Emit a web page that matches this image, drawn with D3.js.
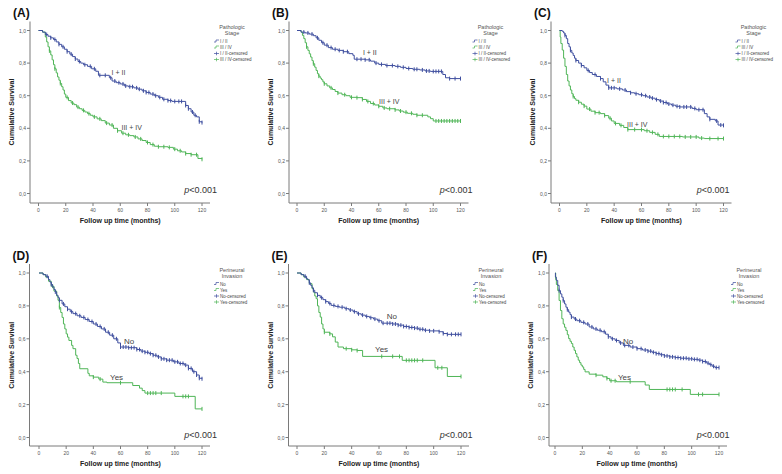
<!DOCTYPE html>
<html><head><meta charset="utf-8">
<script src="https://cdn.jsdelivr.net/npm/d3@7"></script>
<style>
body{margin:0;background:#fff;}
svg{display:block;font-family:"Liberation Sans",Arial,sans-serif;}
</style></head>
<body><svg id="c" width="782" height="474"></svg>
<script>
// ---------- DATA ----------
const xTicks = [0,20,40,60,80,100,120];
const yTicks = [0,0.2,0.4,0.6,0.8,1.0];
const yTickLabels = ["0,0","0,2","0,4","0,6","0,8","1,0"];
const panelLetters = ["(A)","(B)","(C)","(D)","(E)","(F)"];
const legendTitlesStage = ["Pathologic","Stage"];
const legendTitlesPNI = ["Perineural","Invasion"];
const legendItemsStage = ["I / II","III / IV","I / II-censored","III / IV-censored"];
const legendItemsPNI = ["No","Yes","No-censored","Yes-censored"];
const curveLabelsStage = ["I + II","III + IV"];
const curveLabelsPNI = ["No","Yes"];
const pText = "<0.001";

// survival step points [month, survival]
const aBlue = [[0,1],[3,0.99],[5,0.975],[7,0.965],[9,0.955],[11,0.945],[13,0.93],[15,0.915],[17,0.9],[19,0.885],[21,0.87],[23,0.855],[25,0.84],[27,0.825],[29,0.81],[31,0.8],[33,0.79],[36,0.78],[39,0.765],[42,0.75],[44,0.725],[52,0.71],[54,0.69],[57,0.68],[60,0.672],[63,0.66],[66,0.655],[70,0.648],[73,0.64],[76,0.63],[79,0.62],[82,0.61],[85,0.6],[88,0.59],[91,0.578],[95,0.57],[98,0.565],[108,0.54],[110,0.52],[112,0.5],[114,0.48],[116,0.47],[118,0.44],[120,0.435]];
const aGreen = [[0,1],[3,0.99],[5,0.96],[6,0.93],[7,0.9],[8,0.875],[9,0.85],[10,0.82],[11,0.79],[12,0.765],[13,0.74],[14,0.715],[15,0.695],[16,0.675],[17,0.655],[18,0.635],[19,0.61],[20,0.59],[22,0.57],[24,0.555],[26,0.545],[28,0.53],[30,0.52],[32,0.51],[34,0.5],[36,0.49],[38,0.48],[40,0.47],[43,0.458],[46,0.447],[49,0.432],[52,0.42],[55,0.4],[58,0.385],[61,0.37],[64,0.36],[67,0.355],[70,0.347],[73,0.335],[76,0.325],[79,0.313],[82,0.3],[85,0.29],[88,0.287],[95,0.283],[99,0.272],[102,0.262],[105,0.255],[108,0.245],[112,0.238],[117,0.215],[120,0.21]];
const bBlue = [[0,1],[3,0.99],[6,0.985],[9,0.978],[12,0.968],[14,0.955],[16,0.94],[18,0.925],[20,0.91],[23,0.895],[26,0.885],[30,0.878],[34,0.87],[38,0.858],[41,0.848],[42,0.824],[50,0.82],[54,0.812],[57,0.8],[60,0.792],[65,0.785],[72,0.78],[76,0.774],[80,0.767],[85,0.762],[90,0.758],[94,0.752],[98,0.749],[107,0.73],[109,0.71],[112,0.705],[120,0.705]];
const bGreen = [[0,1],[3,0.99],[4,0.97],[5,0.95],[6,0.925],[7,0.9],[8,0.878],[9,0.857],[10,0.837],[11,0.815],[12,0.796],[13,0.775],[14,0.755],[15,0.735],[16,0.72],[17,0.708],[18,0.698],[19,0.685],[20,0.673],[22,0.66],[24,0.648],[26,0.638],[28,0.626],[30,0.616],[33,0.606],[36,0.6],[39,0.59],[44,0.588],[48,0.577],[51,0.565],[54,0.552],[57,0.543],[60,0.535],[63,0.525],[66,0.52],[72,0.513],[75,0.506],[78,0.499],[81,0.492],[85,0.486],[88,0.48],[96,0.47],[98,0.459],[100,0.445],[120,0.445]];
const cBlue = [[0,1],[2,0.995],[3,0.985],[4,0.97],[5,0.95],[6,0.92],[7,0.9],[8,0.878],[9,0.862],[10,0.847],[11,0.83],[12,0.816],[14,0.8],[16,0.785],[18,0.771],[20,0.755],[22,0.742],[24,0.73],[27,0.718],[30,0.705],[32,0.685],[34,0.665],[36,0.648],[42,0.642],[46,0.635],[49,0.625],[52,0.618],[55,0.612],[58,0.606],[61,0.6],[64,0.592],[67,0.585],[70,0.576],[73,0.567],[76,0.558],[79,0.549],[82,0.542],[85,0.535],[88,0.531],[97,0.522],[100,0.514],[106,0.49],[108,0.47],[110,0.455],[114,0.445],[116,0.42],[120,0.418]];
const cGreen = [[0,1],[0.5,0.96],[1,0.92],[2,0.88],[3,0.83],[4,0.78],[5,0.73],[6,0.69],[7,0.66],[8,0.635],[9,0.612],[10,0.595],[11,0.582],[12,0.572],[14,0.56],[16,0.548],[18,0.536],[20,0.518],[23,0.505],[26,0.496],[30,0.49],[33,0.478],[36,0.462],[38,0.445],[40,0.43],[44,0.418],[47,0.405],[50,0.392],[62,0.385],[66,0.375],[70,0.363],[73,0.35],[90,0.347],[102,0.34],[106,0.337],[120,0.337]];
const dBlue = [[0,1],[3,0.99],[5,0.98],[7,0.96],[8,0.945],[9,0.93],[10,0.915],[11,0.9],[12,0.885],[13,0.865],[14,0.85],[15,0.834],[17,0.812],[19,0.795],[21,0.78],[23,0.765],[25,0.753],[28,0.74],[31,0.73],[34,0.717],[37,0.705],[40,0.69],[43,0.675],[46,0.66],[49,0.64],[52,0.622],[55,0.6],[58,0.575],[60,0.55],[66,0.546],[72,0.535],[75,0.525],[78,0.518],[81,0.51],[84,0.5],[87,0.49],[90,0.478],[94,0.47],[99,0.46],[103,0.45],[107,0.44],[110,0.42],[113,0.4],[116,0.38],[118,0.36],[120,0.357]];
const dGreen = [[0,1],[3,0.99],[5,0.975],[7,0.95],[9,0.92],[11,0.89],[13,0.86],[14,0.834],[15,0.79],[16,0.76],[17,0.73],[18,0.69],[19,0.66],[20,0.63],[21,0.61],[22,0.59],[24,0.56],[25,0.54],[27,0.5],[28,0.48],[29,0.45],[30,0.418],[36,0.39],[37,0.375],[40,0.367],[44,0.355],[47,0.337],[50,0.333],[69,0.316],[74,0.3],[76,0.285],[78,0.27],[100,0.25],[115,0.174],[120,0.174]];
const eBlue = [[0,1],[3,0.99],[5,0.98],[7,0.965],[8,0.958],[9,0.94],[10,0.925],[11,0.91],[12,0.895],[13,0.88],[15,0.864],[17,0.85],[19,0.838],[21,0.826],[23,0.815],[25,0.803],[28,0.797],[31,0.792],[35,0.783],[38,0.775],[41,0.765],[44,0.752],[47,0.744],[50,0.736],[53,0.728],[56,0.72],[59,0.71],[62,0.695],[70,0.69],[74,0.683],[78,0.675],[82,0.669],[86,0.665],[89,0.658],[93,0.652],[97,0.648],[104,0.643],[107,0.632],[110,0.627],[120,0.627]];
const eGreen = [[0,1],[3,0.99],[5,0.975],[7,0.96],[9,0.935],[11,0.905],[12,0.884],[13,0.86],[14,0.844],[15,0.8],[16,0.76],[17,0.732],[18,0.69],[19,0.66],[20,0.64],[24,0.63],[26,0.612],[28,0.58],[30,0.55],[34,0.54],[40,0.533],[44,0.529],[48,0.493],[77,0.469],[101,0.424],[110,0.371],[120,0.371]];
const fBlue = [[0,1],[0.3,0.975],[1,0.955],[2,0.925],[3,0.893],[4,0.873],[5,0.853],[6,0.832],[7,0.812],[8,0.792],[9,0.777],[10,0.762],[11,0.747],[12,0.732],[14,0.72],[16,0.71],[19,0.7],[22,0.69],[25,0.672],[28,0.66],[31,0.652],[34,0.643],[37,0.628],[39,0.612],[41,0.6],[44,0.59],[47,0.575],[50,0.56],[55,0.55],[60,0.54],[64,0.532],[68,0.525],[71,0.518],[74,0.51],[77,0.503],[80,0.496],[84,0.49],[88,0.486],[92,0.482],[97,0.478],[101,0.475],[105,0.47],[108,0.462],[111,0.452],[113,0.443],[115,0.433],[117,0.425],[120,0.425]];
const fGreen = [[0,1],[0.5,0.96],[1,0.93],[2,0.893],[3,0.833],[4,0.772],[5,0.722],[6,0.69],[7,0.67],[8,0.651],[9,0.625],[10,0.601],[11,0.585],[12,0.571],[13,0.55],[14,0.53],[15,0.51],[16,0.49],[17,0.47],[18,0.455],[19,0.44],[20,0.429],[21,0.414],[22,0.399],[25,0.385],[30,0.379],[35,0.369],[38,0.359],[40,0.345],[45,0.339],[66,0.319],[69,0.292],[99,0.262],[120,0.262]];

// censored times (months)
const aBlueCens = [6,9,12,15,18,21,24,27,30,34,38,41,45,49,53,56,59,62,64,67,69,72,74,77,79,81,84,86,89,92,95,97,100,103,105,108,110,113,115,118,120];
const aGreenCens = [8,12,16,21,25,29,33,37,41,45,50,54,58,62,66,71,75,80,84,88,92,96,100,104,108,112,116,120];
const bBlueCens = [5,8,11,15,19,22,25,28,31,34,37,44,47,50,53,58,62,66,70,74,78,82,86,88,92,95,97,100,102,104,106,112,116,120];
const bGreenCens = [7,12,16,20,25,30,35,40,44,48,52,56,60,64,68,72,76,80,84,88,92,102,104,106,108,110,112,114,116,118,120];
const cBlueCens = [4,8,12,16,21,26,30,36,38,40,44,48,52,56,60,63,66,68,71,74,76,78,80,83,86,88,91,93,96,99,102,105,110,115,118,120];
const cGreenCens = [10,14,18,22,26,29,33,37,41,45,50,55,60,64,68,72,76,80,84,88,92,96,100,104,110,116,120];
const dBlueCens = [6,9,12,15,18,21,24,27,30,33,36,39,42,45,48,51,54,57,60,62,64,66,68,70,72,74,76,78,80,82,84,86,88,90,92,94,96,98,100,102,104,106,108,110,112,114,116,118,120];
const dGreenCens = [10,15,40,45,60,80,82,84,86,90,106,108,110,120];
const eBlueCens = [6,9,12,15,18,21,24,27,30,33,36,39,42,45,48,51,54,57,60,63,66,68,70,72,74,76,78,80,82,84,86,88,90,92,94,97,100,104,107,110,113,116,118,120];
const eGreenCens = [20,24,36,40,44,62,70,75,80,82,84,86,88,92,103,106,120];
const fBlueCens = [3,6,9,12,15,18,21,24,27,30,33,36,39,42,45,48,51,54,57,60,63,66,68,70,72,74,76,78,80,82,84,86,88,90,92,94,96,98,100,102,104,106,108,110,112,114,116,118,120];
const fGreenCens = [30,38,41,44,55,82,84,86,88,93,105,108,120];

// curve label anchor positions in data units [month, survival]
const labelPosA = [[53.6,0.727],[60.9,0.39]];
const labelPosB = [[48.4,0.85],[60.2,0.549]];
const labelPosC = [[34.8,0.68],[49.4,0.406]];
const labelPosD = [[62.6,0.567],[52.3,0.348]];
const labelPosE = [[65.6,0.719],[57.1,0.52]];
const labelPosF = [[49.8,0.567],[46.1,0.352]];

// ---------- LAYOUT ----------
const BLUE = "#3f4f9f", GREEN = "#4fb557";
const row1 = {y1:30.5, y0:193.5, axisY:203};
const row2 = {y1:273, y0:437.5, axisY:446};
const panels = [
  {row:row1, axisX:30,    x0:38.5,  x120:202,   blue:aBlue, green:aGreen, bc:aBlueCens, gc:aGreenCens, lbl:labelPosA, pEnd:217, type:"stage"},
  {row:row1, axisX:289,   x0:297,   x120:460.5, blue:bBlue, green:bGreen, bc:bBlueCens, gc:bGreenCens, lbl:labelPosB, pEnd:472.5, type:"stage"},
  {row:row1, axisX:551,   x0:559.5, x120:723.5, blue:cBlue, green:cGreen, bc:cBlueCens, gc:cGreenCens, lbl:labelPosC, pEnd:729.5, type:"stage"},
  {row:row2, axisX:29.5,  x0:39,    x120:202,   blue:dBlue, green:dGreen, bc:dBlueCens, gc:dGreenCens, lbl:labelPosD, pEnd:217, type:"pni"},
  {row:row2, axisX:288.5, x0:297,   x120:461,   blue:eBlue, green:eGreen, bc:eBlueCens, gc:eGreenCens, lbl:labelPosE, pEnd:472.5, type:"pni"},
  {row:row2, axisX:549,   x0:555,   x120:719,   blue:fBlue, green:fGreen, bc:fBlueCens, gc:fGreenCens, lbl:labelPosF, pEnd:729.5, type:"pni"}
];

const svg = d3.select("#c");
const AX = "#7a7a7a";

function stepValue(series, t){
  let v = series[0][1];
  for (const p of series){ if (p[0] <= t) v = p[1]; else break; }
  return v;
}

panels.forEach((p,i)=>{
  const g = svg.append("g");
  const x = d3.scaleLinear().domain([0,120]).range([p.x0,p.x120]);
  const y = d3.scaleLinear().domain([0,1]).range([p.row.y0,p.row.y1]);

  // axes lines
  g.append("line").attr("x1",p.axisX).attr("x2",p.axisX).attr("y1",p.row.y1-9).attr("y2",p.row.axisY)
    .attr("stroke",AX).attr("stroke-width",1);
  g.append("line").attr("x1",p.axisX).attr("x2",p.x120+8).attr("y1",p.row.axisY).attr("y2",p.row.axisY)
    .attr("stroke",AX).attr("stroke-width",1);

  // y ticks
  yTicks.forEach((v,k)=>{
    g.append("line").attr("x1",p.axisX-3).attr("x2",p.axisX).attr("y1",y(v)).attr("y2",y(v)).attr("stroke",AX);
    g.append("text").attr("x",p.axisX-4).attr("y",y(v)+2).attr("text-anchor","end")
      .attr("font-size",5).attr("fill","#555").text(yTickLabels[k]);
  });
  // x ticks
  xTicks.forEach(v=>{
    g.append("line").attr("x1",x(v)).attr("x2",x(v)).attr("y1",p.row.axisY).attr("y2",p.row.axisY+3).attr("stroke",AX);
    g.append("text").attr("x",x(v)).attr("y",p.row.axisY+8.5).attr("text-anchor","middle")
      .attr("font-size",5).attr("fill","#555").text(v);
  });

  // axis titles
  g.append("text").attr("transform",`translate(${p.axisX-16},${(p.row.y1+p.row.y0)/2}) rotate(-90)`)
    .attr("text-anchor","middle").attr("font-size",7).attr("font-weight","bold").attr("fill","#222")
    .text("Cumulative Survival");
  g.append("text").attr("x",(p.x0+p.x120)/2).attr("y",p.row.axisY+20).attr("text-anchor","middle")
    .attr("font-size",7).attr("font-weight","bold").attr("fill","#222").text("Follow up time (months)");

  // panel letter
  g.append("text").attr("x",p.axisX-17).attr("y",p.row.y1-13.5).attr("font-size",12).attr("font-weight","bold")
    .attr("fill","#111").text(panelLetters[i]);

  // curves
  const line = d3.line().x(d=>x(d[0])).y(d=>y(d[1])).curve(d3.curveStepAfter);
  [[p.green,GREEN,p.gc],[p.blue,BLUE,p.bc]].forEach(([s,col,cens])=>{
    g.append("path").attr("d",line(s)).attr("fill","none").attr("stroke",col).attr("stroke-width",1);
    g.selectAll(null).data(cens).enter().append("line")
      .attr("x1",d=>x(d)).attr("x2",d=>x(d))
      .attr("y1",d=>y(stepValue(s,d))-2).attr("y2",d=>y(stepValue(s,d))+2)
      .attr("stroke",col).attr("stroke-width",1);
  });

  // curve labels
  const cl = p.type==="stage" ? curveLabelsStage : curveLabelsPNI;
  const fs = p.type==="stage" ? 7 : 8;
  cl.forEach((t,k)=>{
    g.append("text").attr("x",x(p.lbl[k][0])).attr("y",y(p.lbl[k][1])).attr("font-size",fs)
      .attr("fill","#444").text(t);
  });

  // p value
  const pt = g.append("text").attr("x",p.pEnd).attr("y",p.row.y0+(i<3?-0.8:0.5)).attr("text-anchor","end")
    .attr("font-size",9).attr("fill","#333");
  pt.append("tspan").attr("font-style","italic").text("p");
  pt.append("tspan").text(pText);

  // legend
  const lt = p.type==="stage" ? legendTitlesStage : legendTitlesPNI;
  const li = p.type==="stage" ? legendItemsStage : legendItemsPNI;
  const lcx = p.x120+30;
  lt.forEach((t,k)=>{
    g.append("text").attr("x",lcx).attr("y",p.row.y1-1.5+k*6).attr("text-anchor","middle")
      .attr("font-size",5.5).attr("fill","#555").text(t);
  });
  const lx = p.x120+12;
  li.forEach((t,k)=>{
    const ly = p.row.y1+12.5+k*6;
    const col = k%2===0 ? BLUE : GREEN;
    if (k<2){
      g.append("path").attr("d",`M${lx},${ly-1}H${lx+2}V${ly-3}H${lx+5}`).attr("fill","none")
        .attr("stroke",col).attr("stroke-width",0.7);
    } else {
      g.append("line").attr("x1",lx).attr("x2",lx+5).attr("y1",ly-1.5).attr("y2",ly-1.5).attr("stroke",col).attr("stroke-width",0.7);
      g.append("line").attr("x1",lx+2.5).attr("x2",lx+2.5).attr("y1",ly-3.3).attr("y2",ly+0.3).attr("stroke",col).attr("stroke-width",0.7);
    }
    g.append("text").attr("x",lx+6).attr("y",ly).attr("font-size",4.5).attr("fill","#444").text(t);
  });
});
</script></body></html>
